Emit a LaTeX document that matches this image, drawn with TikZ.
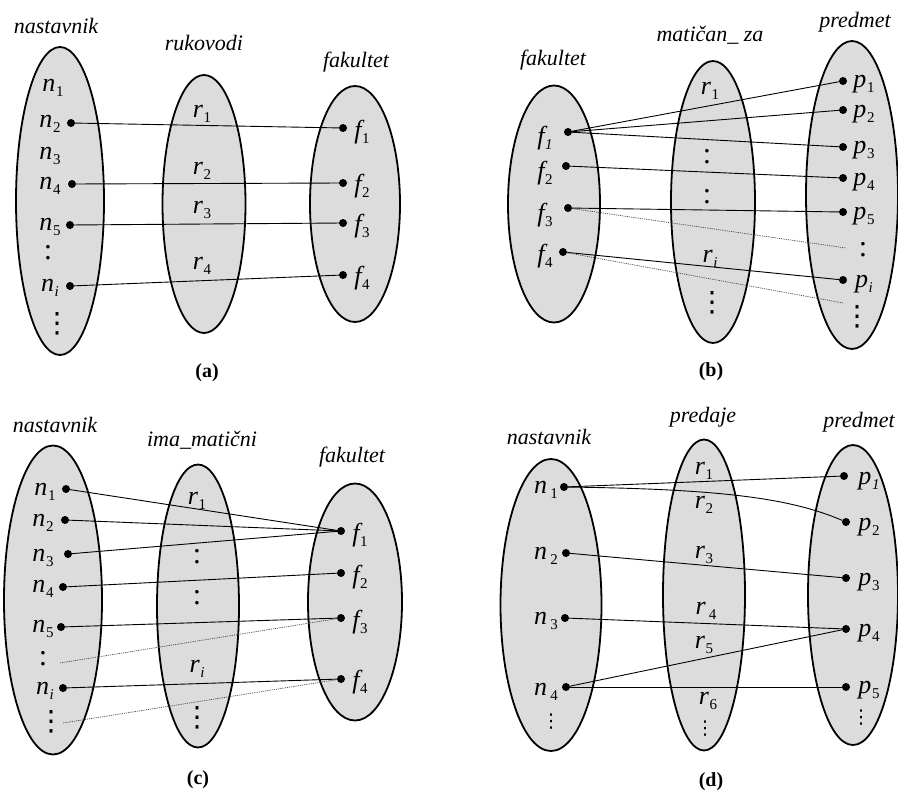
\documentclass[tikz,border=0pt]{standalone}
\usepackage{fontspec}
\setmainfont{Liberation Serif}
\newfontfamily\symfont{DejaVu Sans}
\usetikzlibrary{shapes.geometric}
\definecolor{setgray}{HTML}{DCDCDC}
% element name with a lowered index
\newcommand\elem[2]{{\fontsize{26}{26}\selectfont\itshape #1}\kern0.6pt\raisebox{-5pt}{\fontsize{15}{15}\selectfont #2}}
% vertical ellipsis marks
\newcommand\twodots{{\fontsize{30}{30}\selectfont :}}
\newcommand\threedots{{\symfont\fontsize{28}{28}\selectfont ⋮}}
\newcommand\smalldots{{\symfont\fontsize{19}{19}\selectfont ⋮}}
\begin{document}
\begin{tikzpicture}[x=1pt,y=-1pt,
  setshape/.style={ellipse, draw, line width=1.8pt, fill=setgray, inner sep=0pt},
  dot/.style={circle, fill=black, inner sep=0pt, minimum size=8pt},
  link/.style={line width=0.9pt},
  faint/.style={line width=0.7pt, dash pattern=on 1.2pt off 1pt, black!70},
  title/.style={font=\fontsize{22}{22}\selectfont\itshape, inner sep=0pt},
  partcap/.style={font=\fontsize{20}{20}\selectfont\bfseries, inner sep=0pt},
  lbl/.style={inner sep=0pt},
  vd/.style={inner sep=0pt}]
\useasboundingbox (0,0) rectangle (898,792);

%% ---------- (a) nastavnik -- rukovodi -- fakultet ----------
\node[setshape, minimum width=88pt, minimum height=308pt] (aN) at (60,201) {};
\node[setshape, minimum width=83pt, minimum height=258pt] (aR) at (204,204) {};
\node[setshape, minimum width=90pt, minimum height=236pt] (aF) at (355,204) {};
\node[title] (aNt) at (56,26) {nastavnik};
\node[title] (aRt) at (204,43) {rukovodi};
\node[title] (aFt) at (356,62) {fakultet};

\node[lbl] (aNl1) at (53,88) {\elem{n}{1}};
\node[lbl] (aNl2) at (50,124) {\elem{n}{2}};
\node[lbl] (aNl3) at (50,156) {\elem{n}{3}};
\node[lbl] (aNl4) at (50,186) {\elem{n}{4}};
\node[lbl] (aNl5) at (50,227) {\elem{n}{5}};
\node[vd] (aNv1) at (48,253) {\twodots};
\node[lbl] (aNli) at (50,288) {\elem{n}{\itshape i}};
\node[vd] (aNv2) at (57,324) {\threedots};
\node[dot] (aN2) at (71,123) {};
\node[dot] (aN4) at (72,184) {};
\node[dot] (aN5) at (70,225) {};
\node[dot] (aNi) at (70,286) {};

\node[lbl] (aRl1) at (202,114) {\elem{r}{1}};
\node[lbl] (aRl2) at (202,171) {\elem{r}{2}};
\node[lbl] (aRl3) at (202,210) {\elem{r}{3}};
\node[lbl] (aRl4) at (202,266) {\elem{r}{4}};

\node[dot] (aF1) at (343,128) {};
\node[dot] (aF2) at (343,183) {};
\node[dot] (aF3) at (343,223) {};
\node[dot] (aF4) at (343,275) {};
\node[lbl] (aFl1) at (362,132) {\elem{f}{1}};
\node[lbl] (aFl2) at (362,186) {\elem{f}{2}};
\node[lbl] (aFl3) at (362,226) {\elem{f}{3}};
\node[lbl] (aFl4) at (362,278) {\elem{f}{4}};

\draw[link] (aN2) -- (aF1);
\draw[link] (aN4) -- (aF2);
\draw[link] (aN5) -- (aF3);
\draw[link] (aNi) -- (aF4);
\node[partcap] (aCap) at (207,373) {(a)};

%% ---------- (b) fakultet -- maticno_za -- predmet ----------
\node[setshape, minimum width=92pt, minimum height=237pt] (bF) at (554,204) {};
\node[setshape, minimum width=84pt, minimum height=282pt] (bR) at (713,202) {};
\node[setshape, minimum width=92pt, minimum height=308pt] (bP) at (852,195) {};
\node[title] (bFt) at (553,60) {fakultet};
\node[title] (bRt) at (710,35) {matičan\_ za};
\node[title] (bPt) at (855,22) {predmet};

\node[lbl] (bFl1) at (545,138) {\elem{f}{\itshape 1}};
\node[lbl] (bFl2) at (545,173) {\elem{f}{2}};
\node[lbl] (bFl3) at (545,215) {\elem{f}{3}};
\node[lbl] (bFl4) at (545,256) {\elem{f}{4}};
\node[dot] (bF1) at (568,132) {};
\node[dot] (bF2) at (566,166) {};
\node[dot] (bF3) at (568,208) {};
\node[dot] (bF4) at (563,252) {};

\node[lbl] (bRl1) at (710,91) {\elem{r}{1}};
\node[vd] (bRv1) at (707,157) {\twodots};
\node[vd] (bRv2) at (707,197) {\twodots};
\node[lbl] (bRli) at (710,259) {\elem{r}{\itshape i}};
\node[vd] (bRv3) at (712,303) {\threedots};

\node[dot] (bP1) at (843,81) {};
\node[dot] (bP2) at (843,110) {};
\node[dot] (bP3) at (843,147) {};
\node[dot] (bP4) at (843,178) {};
\node[dot] (bP5) at (843,212) {};
\node[dot] (bPi) at (843,280) {};
\node[lbl] (bPl1) at (864,84) {\elem{p}{1}};
\node[lbl] (bPl2) at (864,114) {\elem{p}{2}};
\node[lbl] (bPl3) at (864,150) {\elem{p}{3}};
\node[lbl] (bPl4) at (864,182) {\elem{p}{4}};
\node[lbl] (bPl5) at (864,216) {\elem{p}{5}};
\node[vd] (bPv1) at (863,250) {\twodots};
\node[lbl] (bPli) at (864,284) {\elem{p}{\itshape i}};
\node[vd] (bPv2) at (857,317) {\threedots};
\coordinate (bE1) at (846,248);
\coordinate (bE2) at (843,303);

\draw[link] (bF1) -- (bP1);
\draw[link] (bF1) -- (bP2);
\draw[link] (bF1) -- (bP3);
\draw[link] (bF2) -- (bP4);
\draw[link] (bF3) -- (bP5);
\draw[link] (bF4) -- (bPi);
\draw[faint] (bF3) -- (bE1);
\draw[faint] (bF4) -- (bE2);
\node[partcap] (bCap) at (711,372) {(b)};

%% ---------- (c) nastavnik -- ima_maticni -- fakultet ----------
\node[setshape, minimum width=98pt, minimum height=309pt] (cN) at (53,600) {};
\node[setshape, minimum width=82pt, minimum height=283pt] (cR) at (198,606) {};
\node[setshape, minimum width=94pt, minimum height=237pt] (cF) at (355,602) {};
\node[title] (cNt) at (55,425) {nastavnik};
\node[title] (cRt) at (202,440) {ima\_matični};
\node[title] (cFt) at (352,457) {fakultet};

\node[lbl] (cNl1) at (45,492) {\elem{n}{1}};
\node[lbl] (cNl2) at (43,523) {\elem{n}{2}};
\node[lbl] (cNl3) at (43,558) {\elem{n}{3}};
\node[lbl] (cNl4) at (43,589) {\elem{n}{4}};
\node[lbl] (cNl5) at (43,629) {\elem{n}{5}};
\node[vd] (cNv1) at (43,659) {\twodots};
\node[lbl] (cNli) at (45,691) {\elem{n}{\itshape i}};
\node[vd] (cNv2) at (51,722) {\threedots};
\node[dot] (cN1) at (66,489) {};
\node[dot] (cN2) at (65,520) {};
\node[dot] (cN3) at (68,554) {};
\node[dot] (cN4) at (63,587) {};
\node[dot] (cN5) at (61,627) {};
\node[dot] (cNi) at (63,688) {};
\coordinate (cS1) at (60,663);
\coordinate (cS2) at (63,723);

\node[lbl] (cRl1) at (197,501) {\elem{r}{1}};
\node[vd] (cRv1) at (197,557) {\twodots};
\node[vd] (cRv2) at (197,598) {\twodots};
\node[lbl] (cRli) at (197,669) {\elem{r}{\itshape i}};
\node[vd] (cRv3) at (197,718) {\threedots};

\node[dot] (cF1) at (341,531) {};
\node[dot] (cF2) at (341,573) {};
\node[dot] (cF3) at (341,618) {};
\node[dot] (cF4) at (341,679) {};
\node[lbl] (cFl1) at (360,535) {\elem{f}{1}};
\node[lbl] (cFl2) at (360,577) {\elem{f}{2}};
\node[lbl] (cFl3) at (360,622) {\elem{f}{3}};
\node[lbl] (cFl4) at (360,682) {\elem{f}{4}};

\draw[link] (cN1) -- (cF1);
\draw[link] (cN2) -- (cF1);
\draw[link] (cN3) -- (cF1);
\draw[link] (cN4) -- (cF2);
\draw[link] (cN5) -- (cF3);
\draw[link] (cNi) -- (cF4);
\draw[faint] (cS1) -- (cF3);
\draw[faint] (cS2) -- (cF4);
\node[partcap] (cCap) at (198,780) {(c)};

%% ---------- (d) nastavnik -- predaje -- predmet ----------
\node[setshape, minimum width=101pt, minimum height=292pt] (dN) at (551,605) {};
\node[setshape, minimum width=82pt, minimum height=311pt] (dR) at (704,595) {};
\node[setshape, minimum width=90pt, minimum height=300pt] (dP) at (853,595) {};
\node[title] (dNt) at (549,437) {nastavnik};
\node[title] (dRt) at (703,417) {predaje};
\node[title] (dPt) at (859,422) {predmet};

\node[lbl] (dNl1) at (546,490) {\elem{n}{\,1}};
\node[lbl] (dNl2) at (546,556) {\elem{n}{\,2}};
\node[lbl] (dNl3) at (546,621) {\elem{n}{\,3}};
\node[lbl] (dNl4) at (546,692) {\elem{n}{\,4}};
\node[vd] (dNv) at (551,722) {\smalldots};
\node[dot] (dN1) at (564,487) {};
\node[dot] (dN2) at (566,553) {};
\node[dot] (dN3) at (565,618) {};
\node[dot] (dN4) at (566,687) {};

\node[lbl] (dRl1) at (704,471) {\elem{r}{1}};
\node[lbl] (dRl2) at (704,505) {\elem{r}{2}};
\node[lbl] (dRl3) at (704,555) {\elem{r}{3}};
\node[lbl] (dRl4) at (706,611) {\elem{r}{\,4}};
\node[lbl] (dRl5) at (704,645) {\elem{r}{5}};
\node[lbl] (dRl6) at (708,701) {\elem{r}{6}};
\node[vd] (dRv) at (705,729) {\smalldots};

\node[dot] (dP1) at (844,476) {};
\node[dot] (dP2) at (846,522) {};
\node[dot] (dP3) at (846,578) {};
\node[dot] (dP4) at (846,629) {};
\node[dot] (dP5) at (846,687) {};
\node[lbl] (dPl1) at (869,481) {\elem{p}{\itshape 1}};
\node[lbl] (dPl2) at (869,527) {\elem{p}{2}};
\node[lbl] (dPl3) at (869,582) {\elem{p}{3}};
\node[lbl] (dPl4) at (869,633) {\elem{p}{4}};
\node[lbl] (dPl5) at (869,690) {\elem{p}{5}};
\node[vd] (dPv) at (861,718) {\smalldots};

\draw[link] (dN1) -- (dP1);
\draw[link] (dN1) .. controls (720,489) and (790,498) .. (dP2);
\draw[link] (dN2) -- (dP3);
\draw[link] (dN3) -- (dP4);
\draw[link] (dN4) -- (dP4);
\draw[link] (dN4) -- (dP5);
\node[partcap] (dCap) at (711,782) {(d)};
\end{tikzpicture}
\end{document}
